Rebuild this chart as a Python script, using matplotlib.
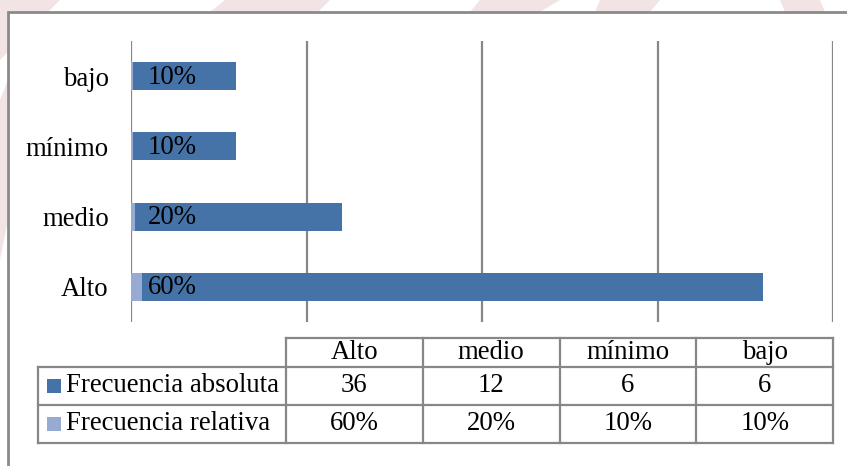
"""Niveles: frecuencia absoluta y relativa, barras horizontales con tabla de datos."""
import matplotlib.pyplot as plt
from matplotlib.patches import Rectangle, Polygon

# ---------------------------------------------------------------------------
# Data
# ---------------------------------------------------------------------------
categories = ["Alto", "medio", "mínimo", "bajo"]
abs_freq = [36, 12, 6, 6]
rel_freq = [0.60, 0.20, 0.10, 0.10]
series_names = ["Frecuencia absoluta", "Frecuencia relativa"]
x_ticks = [0, 10, 20, 30, 40]

# ---------------------------------------------------------------------------
# Style
# ---------------------------------------------------------------------------
W, H, DPI = 847, 466, 100
DARK = "#4572A7"
LIGHT = "#96AAD3"
GRID = "#878787"
FRAME = "#8a8a8a"
FS = 19.3

plt.rcParams["font.family"] = ["Liberation Serif", "DejaVu Serif"]

fig = plt.figure(figsize=(W / DPI, H / DPI), dpi=DPI)


def px_axes(left, top, right, bottom):
    return fig.add_axes([left / W, 1 - bottom / H, (right - left) / W, (bottom - top) / H])


# background overlay (frame, watermark, table) in pixel coordinates
bg = fig.add_axes([0, 0, 1, 1], zorder=0)
bg.set_xlim(0, W)
bg.set_ylim(H, 0)
bg.axis("off")

# faint watermark strokes outside the chart frame
for pts in ([(0, 0), (60, 0), (0, 60)],
            [(225, 0), (320, 0), (300, 12), (210, 12)],
            [(280, 0), (330, 0), (318, 12), (270, 12)],
            [(480, 0), (560, 0), (540, 12), (470, 12)],
            [(600, 0), (660, 0), (650, 12), (595, 12)],
            [(780, 0), (820, 0), (825, 12), (785, 12)],
            [(0, 100), (8, 80), (8, 220), (0, 260)]):
    bg.add_patch(Polygon(pts, closed=True, facecolor="#f2e4e4", edgecolor="none"))

bg.add_patch(Rectangle((8, 12), W, H, facecolor="white", edgecolor=FRAME, lw=2))

# ---------------------------------------------------------------------------
# Bars
# ---------------------------------------------------------------------------
ax = px_axes(131, 41, 833, 322)
ax.set_zorder(2)
ax.patch.set_alpha(0)
ypos = list(range(len(categories)))
ax.barh(ypos, abs_freq, height=0.4, color=DARK, zorder=3)
ax.barh(ypos, rel_freq, height=0.4, color=LIGHT, zorder=4)
for y, r in zip(ypos, rel_freq):
    ax.annotate(f"{r:.0%}", (0, y), xytext=(17, -1), textcoords="offset pixels",
                ha="left", va="center", fontsize=FS, color="black", zorder=5)

ax.set_xlim(x_ticks[0], x_ticks[-1])
ax.set_ylim(-0.5, len(categories) - 0.5)
ax.set_xticks(x_ticks)
ax.set_xticklabels([])
ax.set_yticks(ypos)
ax.set_yticklabels(categories, fontsize=FS)
ax.tick_params(axis="both", length=0)
ax.tick_params(axis="y", pad=16)
ax.grid(axis="x", color=GRID, lw=1.6, zorder=1)
for s in ax.spines.values():
    s.set_visible(False)

# ---------------------------------------------------------------------------
# Data table
# ---------------------------------------------------------------------------
t_left, t_col0, t_right = 38, 286, 833
row_y = [338, 367, 405, 443]
col_w = (t_right - t_col0) / len(categories)
col_x = [t_col0 + i * col_w for i in range(len(categories) + 1)]
lk = dict(color=GRID, lw=1.6, solid_capstyle="projecting")

# header row
bg.plot([t_col0, t_right], [row_y[0], row_y[0]], **lk)
for x in col_x:
    bg.plot([x, x], [row_y[0], row_y[-1]], **lk)
for y in row_y[1:]:
    bg.plot([t_left, t_right], [y, y], **lk)
bg.plot([t_left, t_left], [row_y[1], row_y[-1]], **lk)

for i, cat in enumerate(categories):
    bg.text(col_x[i] + col_w / 2, (row_y[0] + row_y[1]) / 2, cat,
            ha="center", va="center", fontsize=FS)

rows = [[str(v) for v in abs_freq], [f"{v:.0%}" for v in rel_freq]]
for r, (name, color, vals) in enumerate(zip(series_names, [DARK, LIGHT], rows)):
    yc = (row_y[r + 1] + row_y[r + 2]) / 2
    bg.add_patch(Rectangle((47, yc - 7), 14, 14, facecolor=color, edgecolor="none"))
    bg.text(66, yc, name, ha="left", va="center", fontsize=FS)
    for i, v in enumerate(vals):
        bg.text(col_x[i] + col_w / 2, yc, v, ha="center", va="center", fontsize=FS)

fig.savefig("out.png", dpi=DPI)
